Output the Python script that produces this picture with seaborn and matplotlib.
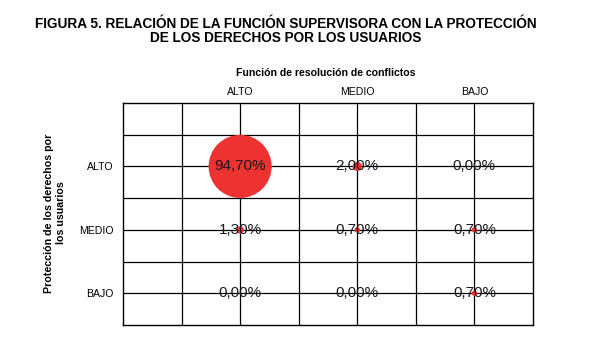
import numpy as np
import pandas as pd
import matplotlib
matplotlib.use("Agg")
import matplotlib.pyplot as plt
import seaborn as sns

# ---- data ----
col_categories = ["ALTO", "MEDIO", "BAJO"]        # Función de resolución de conflictos
row_categories = ["ALTO", "MEDIO", "BAJO"]        # Protección de los derechos por los usuarios
values_alto = [94.7, 2.0, 0.0]
values_medio = [1.3, 0.7, 0.7]
values_bajo = [0.0, 0.0, 0.7]

title = "FIGURA 5. RELACIÓN DE LA FUNCIÓN SUPERVISORA CON LA PROTECCIÓN\nDE LOS DERECHOS POR LOS USUARIOS"
x_title = "Función de resolución de conflictos"
y_title = "Protección de los derechos por\nlos usuarios"

sns.set_style("white")
plt.rcParams["font.family"] = ["Liberation Sans", "DejaVu Sans"]
plt.rcParams["text.color"] = "black"

rows = []
for ri, (rname, vals) in enumerate(zip(row_categories, [values_alto, values_medio, values_bajo])):
    for ci, cname in enumerate(col_categories):
        rows.append({"row": rname, "col": cname,
                     "x": ci + 1, "y": len(row_categories) - ri,
                     "value": vals[ci]})
df = pd.DataFrame(rows)

fig = plt.figure(figsize=(5.99, 3.41), dpi=100)
ax = fig.add_axes([123/599, 1-325/341, (533-123)/599, (325-103)/341])

sns.scatterplot(data=df, x="x", y="y", size="value", sizes=(0, 2060),
                size_norm=(0, 94.7), color="#EE3131", edgecolor="none",
                legend=False, ax=ax, zorder=3, alpha=1)

for _, r in df.iterrows():
    ax.text(r["x"], r["y"], f"{r['value']:.2f}".replace(".", ",") + "%",
            ha="center", va="center", fontsize=11, color="#1a1a1a", zorder=4)

ax.set_xlim(0, 3.5)
ax.set_ylim(0.5, 4)
xt = np.arange(0.5, 3.01, 0.5)
yt = np.arange(1.0, 3.51, 0.5)
ax.set_xticks(xt)
ax.set_yticks(yt)
ax.set_xticklabels([col_categories[int(v) - 1] if float(v).is_integer() else "" for v in xt])
ax.set_yticklabels([row_categories[len(row_categories) - int(v)] if float(v).is_integer() else "" for v in yt])
ax.xaxis.tick_top()
ax.tick_params(axis="both", length=0, labelsize=7.6, colors="black")
ax.tick_params(axis="x", pad=4.5)
ax.tick_params(axis="y", pad=7)
ax.grid(True, color="black", linewidth=0.9)
ax.set_axisbelow(True)
for s in ax.spines.values():
    s.set_visible(True)
    s.set_color("black")
    s.set_linewidth(1.0)
ax.set_xlabel("")
ax.set_ylabel("")

fig.text(0.4775, 1-31.5/341, title, ha="center", va="center", fontsize=9.8,
         fontweight="bold", linespacing=1.0, color="black")
fig.text(326/599, 1-73/341, x_title, ha="center", va="center", fontsize=7.6,
         fontweight="bold", color="black")
fig.text(55/599, 1-213/341, y_title, ha="center", va="center", fontsize=7.7,
         fontweight="bold", rotation=90, linespacing=1.15, color="black")

fig.savefig("out.png", dpi=100, facecolor="white")
